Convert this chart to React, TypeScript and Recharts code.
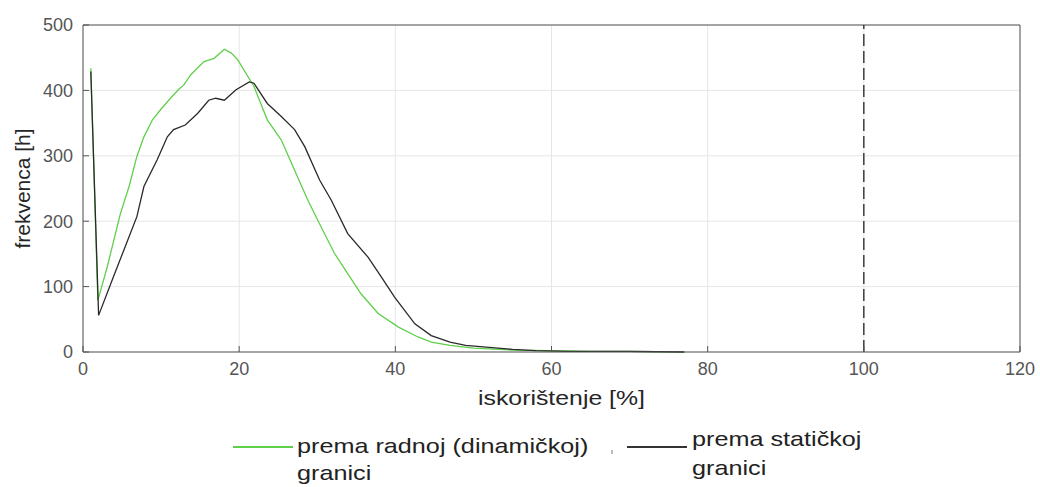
import { LineChart, Line, XAxis, YAxis, CartesianGrid, ReferenceLine, Label } from "recharts"

// prema radnoj (dinamičkoj) granici
const radnaX = [1.0, 1.9, 3.1, 4.8, 5.9, 6.9, 7.8, 8.9, 9.9, 11.2, 12.3, 12.9, 13.8, 15.5, 16.8, 18.1, 19.0, 19.8, 21.9, 23.6, 25.4, 27.1, 28.8, 30.5, 32.2, 33.9, 35.6, 37.8, 40.4, 42.9, 44.6, 47, 50, 55, 60, 65, 70, 77]
const radnaY = [434, 79, 130, 212, 253, 299, 329, 355, 370, 388, 402, 408, 424, 444, 449, 463, 457, 447, 406, 355, 324, 278, 232, 191, 151, 120, 89, 59, 38, 23, 15, 10, 6, 3, 2, 1, 1, 0]

// prema statičkoj granici
const statX = [1.0, 2.0, 3.9, 5.4, 6.9, 7.8, 9.5, 10.8, 11.6, 13.1, 14.7, 16.1, 17.0, 18.1, 19.6, 21.3, 21.9, 23.6, 25.4, 27.1, 28.4, 30.3, 31.8, 33.9, 36.5, 38.2, 39.9, 42.5, 44.6, 47, 49, 52, 55, 58, 62, 70, 77]
const statY = [429, 56, 115, 161, 207, 253, 294, 329, 340, 347, 365, 385, 388, 385, 401, 413, 411, 380, 360, 340, 314, 263, 232, 181, 145, 115, 84, 43, 25, 15, 10, 7, 4, 2, 1, 1, 0]

const xTicks = [0, 20, 40, 60, 80, 100, 120]
const yTicks = [0, 100, 200, 300, 400, 500]

const radnaData = radnaX.map((x, i) => ({ x, y: radnaY[i] }))
const statData = statX.map((x, i) => ({ x, y: statY[i] }))

const font = "'Liberation Sans', Arial, sans-serif"
const tickStyle = { fontSize: 18, fill: "#555555", fontFamily: font }

export default function App() {
  return (
    <div style={{ position: "absolute", left: 0, top: 0, width: 1040, height: 487, background: "#fff", fontFamily: font }}>
      <LineChart width={1040} height={487} margin={{ top: 25, right: 20, left: 0, bottom: 0 }}>
        <CartesianGrid stroke="#e6e6e6" vertical horizontal />
        <XAxis
          type="number"
          dataKey="x"
          domain={[0, 120]}
          ticks={xTicks}
          height={135}
          stroke="#555555"
          tickSize={-6}
          tickMargin={16}
          tick={tickStyle}
          allowDuplicatedCategory={false}
        >
          <Label
            content={({ viewBox }: any) => (
              <text
                x={viewBox.x + viewBox.width / 2 + 10}
                y={viewBox.y + 53}
                textAnchor="middle"
                fontSize={21}
                fill="#262626"
                fontFamily={font}
                textLength={167}
                lengthAdjust="spacingAndGlyphs"
              >
                iskorištenje [%]
              </text>
            )}
          />
        </XAxis>
        <YAxis
          type="number"
          domain={[0, 500]}
          ticks={yTicks}
          width={83}
          stroke="#555555"
          tickSize={-6}
          tickMargin={16}
          tick={tickStyle}
        >
          <Label
            content={({ viewBox }: any) => (
              <text
                x={22}
                y={viewBox.y + viewBox.height / 2}
                transform={`rotate(-90 22 ${viewBox.y + viewBox.height / 2})`}
                textAnchor="middle"
                dominantBaseline="central"
                fontSize={21}
                fill="#262626"
                fontFamily={font}
              >
                frekvenca [h]
              </text>
            )}
          />
        </YAxis>
        <ReferenceLine y={500} stroke="#555555" strokeWidth={1} />
        <ReferenceLine x={120} stroke="#555555" strokeWidth={1} />
        <ReferenceLine x={100} stroke="#222222" strokeWidth={1.3} strokeDasharray="12 5" />
        <Line
          data={radnaData}
          dataKey="y"
          type="linear"
          stroke="#5fd04a"
          strokeWidth={1.3}
          dot={false}
          isAnimationActive={false}
        />
        <Line
          data={statData}
          dataKey="y"
          type="linear"
          stroke="#2a2a2a"
          strokeWidth={1.3}
          dot={false}
          isAnimationActive={false}
        />
      </LineChart>

      {/* legenda */}
      <div style={{ position: "absolute", left: 233, top: 446, width: 60, height: 2, background: "#5fd04a" }} />
      <div
        style={{
          position: "absolute",
          left: 297,
          top: 432,
          fontSize: 21,
          lineHeight: "27px",
          color: "#222",
          whiteSpace: "nowrap",
          transform: "scaleX(1.2)",
          transformOrigin: "left top",
        }}
      >
        prema radnoj (dinamičkoj)
        <br />
        granici
      </div>
      <div style={{ position: "absolute", left: 611, top: 450, width: 2, height: 4, background: "#bbb" }} />
      <div style={{ position: "absolute", left: 627, top: 446, width: 60, height: 2, background: "#333" }} />
      <div
        style={{
          position: "absolute",
          left: 692,
          top: 424,
          fontSize: 21,
          lineHeight: "29px",
          color: "#222",
          whiteSpace: "nowrap",
          transform: "scaleX(1.2)",
          transformOrigin: "left top",
        }}
      >
        prema statičkoj
        <br />
        granici
      </div>
    </div>
  )
}
